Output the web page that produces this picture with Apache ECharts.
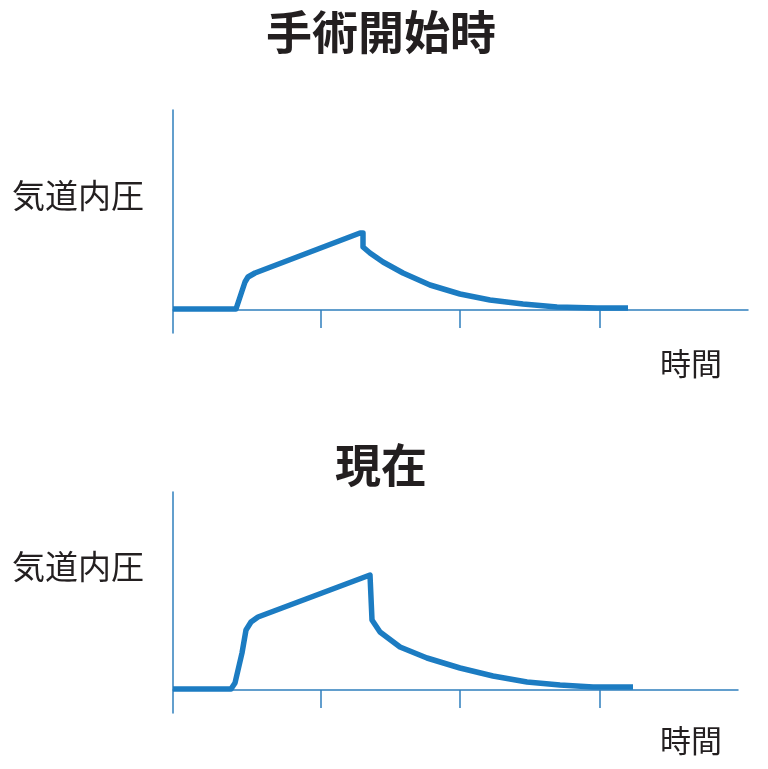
<!DOCTYPE html>
<html>
<head>
<meta charset="utf-8">
<script src="https://cdn.jsdelivr.net/npm/echarts@6/dist/echarts.min.js"></script>
<style>
  html,body{margin:0;padding:0;background:#fff;}
  #chart{width:768px;height:769px;}
</style>
</head>
<body>
<div id="chart"></div>
<script>
// time (arbitrary units) and airway pressure (arbitrary units)
const startTime = [0, 0.63, 0.67, 0.72, 0.75, 0.82, 1.87, 1.90, 1.90, 1.97, 2.10, 2.30, 2.57, 2.87, 3.17, 3.50, 3.84, 4.24, 4.55];
const startPressure = [0.1, 0.1, 1.3, 2.8, 3.3, 3.7, 7.7, 7.7, 6.3, 5.7, 4.8, 3.7, 2.5, 1.6, 1.0, 0.6, 0.3, 0.2, 0.2];
const nowTime = [0, 0.58, 0.62, 0.69, 0.73, 0.78, 0.85, 1.97, 1.99, 1.99, 2.07, 2.27, 2.54, 2.87, 3.20, 3.54, 3.87, 4.20, 4.60];
const nowPressure = [0.1, 0.1, 0.7, 3.7, 6.0, 6.8, 7.3, 11.5, 11.5, 7.0, 5.8, 4.3, 3.2, 2.2, 1.4, 0.8, 0.5, 0.3, 0.3];
const timeTicks = [1.48, 2.87, 4.27];
const titles = ["手術開始時", "現在"];
const yName = "気道内圧";
const xName = "時間";

const blue = "#1c7cc2", axisBlue = "#2f7fbd", ink = "#231f20";
const font = "'Noto Sans CJK JP', 'Noto Sans', sans-serif";
const pairs = (xs, ys) => xs.map((x, i) => [x, ys[i]]);

const chart = echarts.init(document.getElementById("chart"));

const xAxisBase = (grid, max) => ({
  type: "value", gridIndex: grid, min: 0, max: max,
  axisLine: {show: true, onZero: true, lineStyle: {color: axisBlue, width: 1.5}},
  axisTick: {show: true, inside: false, length: 18, customValues: timeTicks, lineStyle: {color: axisBlue, width: 1.5}},
  axisLabel: {show: false}, splitLine: {show: false}
});
const yAxisBase = (grid, max) => ({
  type: "value", gridIndex: grid, min: -2.3, max: max,
  axisLine: {show: true, onZero: false, lineStyle: {color: axisBlue, width: 1.5}},
  axisTick: {show: false}, axisLabel: {show: false}, splitLine: {show: false}
});
const txt = (text, left, top, size, weight, align) => ({
  text: text, left: left, top: top, textAlign: align || "left",
  textStyle: {fontFamily: font, fontSize: size, fontWeight: weight, color: ink, lineHeight: size}
});
const curve = (idx, xs, ys) => ({
  type: "line", xAxisIndex: idx, yAxisIndex: idx, data: pairs(xs, ys),
  showSymbol: false, smooth: false,
  lineStyle: {color: blue, width: 5.5, join: "round", cap: "butt"}
});

chart.setOption({
  animation: false,
  backgroundColor: "#fff",
  title: [
    txt(titles[0], 376, 4, 46, "bold", "center"),
    txt(yName, 7, 174, 33, "normal"),
    txt(xName, 655, 343, 31, "normal"),
    txt(titles[1], 376, 437, 46, "bold", "center"),
    txt(yName, 7, 545, 33, "normal"),
    txt(xName, 655, 720, 31, "normal")
  ],
  grid: [
    {left: 173, top: 110, width: 575, height: 223},
    {left: 173, top: 492, width: 565, height: 221}
  ],
  xAxis: [xAxisBase(0, 5.75), xAxisBase(1, 5.65)],
  yAxis: [yAxisBase(0, 20), yAxisBase(1, 19.8)],
  series: [curve(0, startTime, startPressure), curve(1, nowTime, nowPressure)]
});
</script>
</body>
</html>
